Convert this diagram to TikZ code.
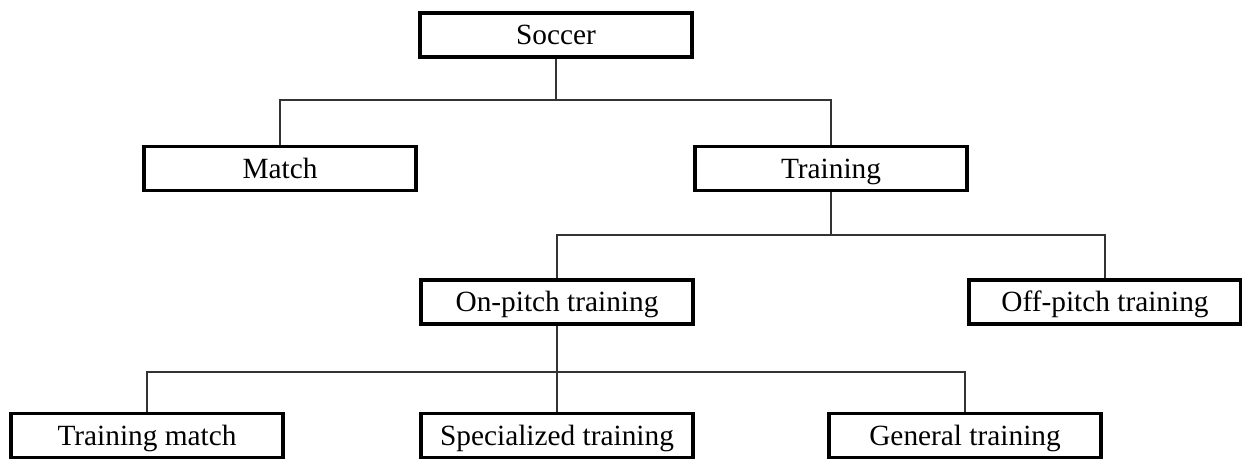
\documentclass[tikz,border=0pt]{standalone}
\usepackage{fontspec}
\setmainfont{Liberation Serif}
\begin{document}
\begin{tikzpicture}[x=0.75pt, y=0.75pt]
  \useasboundingbox (0,0) rectangle (1242,-458);
  \begin{scope}[every node/.style={draw, line width=2.3pt, minimum width=204pt, minimum height=33pt, inner sep=0pt, text height=14.4pt, text depth=0pt, font=\fontsize{22}{26}\selectfont}]
    \node (soccer) at (556,-35) {Soccer} ;
    \node (match) at (280,-168.5) {Match} ;
    \node (training) at (831,-168.5) {Training} ;
    \node (onpitch) at (557,-302) {On-pitch training} ;
    \node (offpitch) at (1105,-302) {Off-pitch training} ;
    \node (tmatch) at (147,-435.5) {Training match} ;
    \node (special) at (557,-435.5) {Specialized training} ;
    \node (general) at (965,-435.5) {General training} ;
  \end{scope}

  \coordinate (j1) at (556,-100);
  \coordinate (j2) at (831,-235);
  \coordinate (j3) at (557,-372);

  \begin{scope}[line width=0.8pt, draw=black!80]
    \draw (soccer.south) to (j1);
    \draw (match.north) |- (j1) -| (training.north);
    \draw (training.south) to (j2);
    \draw (onpitch.north) |- (j2) -| (offpitch.north);
    \draw (onpitch.south) to (j3);
    \draw (tmatch.north) |- (j3) -| (general.north);
    \draw (special.north) to (j3);
  \end{scope}
\end{tikzpicture}
\end{document}
